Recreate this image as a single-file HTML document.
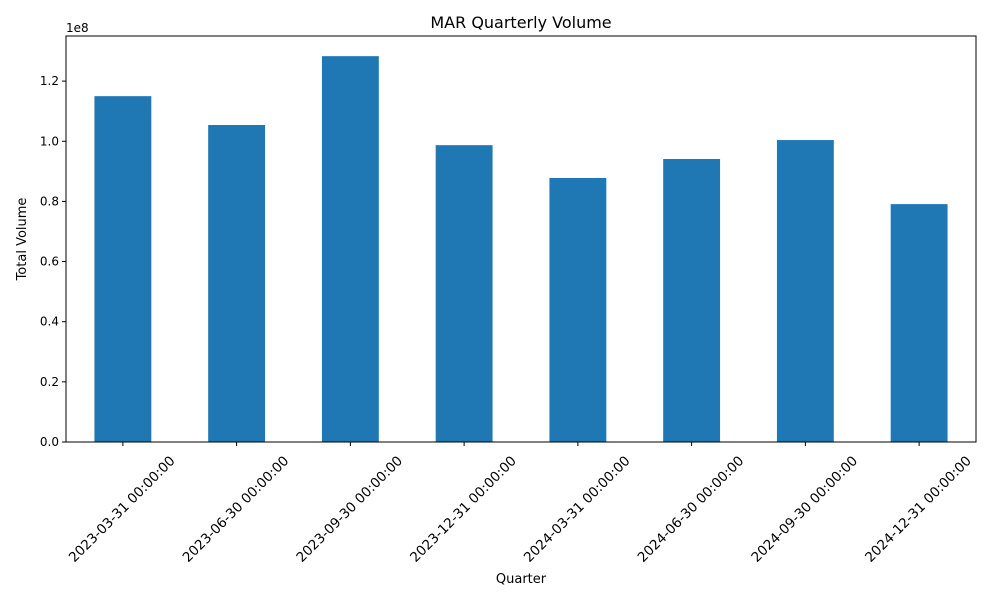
<!DOCTYPE html>
<html><head><meta charset="utf-8"><style>
body{margin:0;background:#fff;font-family:"Liberation Sans","DejaVu Sans",sans-serif}
</style></head><body>
<svg width="1000" height="600" xmlns="http://www.w3.org/2000/svg" font-family="DejaVu Sans, Liberation Sans, sans-serif">
<rect width="1000" height="600" fill="#fff"/>
<text x="521" y="28" font-size="16" text-anchor="middle">MAR Quarterly Volume</text>
<g id="bars"></g>
<g id="yaxis"></g>
<g id="xaxis"></g>
<rect x="66" y="36" width="910" height="406" fill="none" stroke="#000" stroke-width="1"/>
<text x="66" y="32" font-size="12">1e8</text>
<text x="26" y="239" font-size="13" text-anchor="middle" transform="rotate(-90 26 239)">Total Volume</text>
<text x="521" y="583" font-size="13" text-anchor="middle">Quarter</text>
</svg>
<script>
const categories=["2023-03-31 00:00:00","2023-06-30 00:00:00","2023-09-30 00:00:00","2023-12-31 00:00:00","2024-03-31 00:00:00","2024-06-30 00:00:00","2024-09-30 00:00:00","2024-12-31 00:00:00"];
const volumes=[1.150,1.054,1.283,0.987,0.878,0.941,1.004,0.791];
const yTicks=[0,0.2,0.4,0.6,0.8,1.0,1.2];
const yTickLabels=["0.0","0.2","0.4","0.6","0.8","1.0","1.2"];
const NS="http://www.w3.org/2000/svg";
const L=66,R=976,T=36,B=442,yMax=1.35;
function xs(i){return L+(i+0.5)*(R-L)/categories.length;}
function ys(v){return B-v/yMax*(B-T);}
const bw=0.5*(R-L)/categories.length;
const gb=document.getElementById('bars'),gy=document.getElementById('yaxis'),gx=document.getElementById('xaxis');
function mk(t,a,p){const e=document.createElementNS(NS,t);for(const k in a)e.setAttribute(k,a[k]);p.appendChild(e);return e;}
volumes.forEach((v,i)=>{
 const r=mk('rect',{x:xs(i)-bw/2,y:ys(v),width:bw,height:B-ys(v),fill:'#1f77b4'},gb);
 
 
 const tk=mk('line',{x1:xs(i),x2:xs(i),y1:B,y2:B+4,stroke:'#000'},gx);
 
 
 const tx=xs(i)-1,ty=B+67;
 const t=mk('text',{x:tx,y:ty+4.5,'font-size':13.5,'text-anchor':'middle',transform:`rotate(-45 ${tx} ${ty})`},gx);
 t.textContent=categories[i];
 
 
});
yTicks.forEach((v,i)=>{
 const tk=mk('line',{x1:L-4,x2:L,y1:ys(v),y2:ys(v),stroke:'#000'},gy);
 
 
 const t=mk('text',{x:L-7,y:ys(v)+4,'font-size':12,'text-anchor':'end'},gy);
 t.textContent=yTickLabels[i];
 
 
});
</script>
</body></html>
